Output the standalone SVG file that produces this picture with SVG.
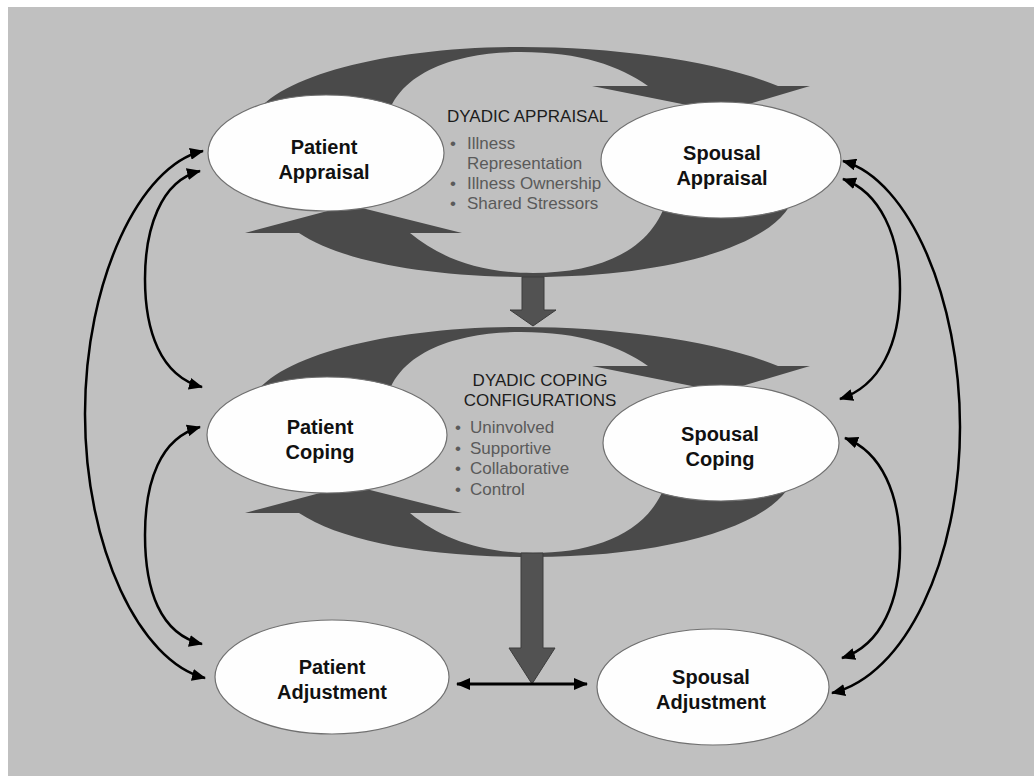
<svg xmlns="http://www.w3.org/2000/svg" xmlns:xlink="http://www.w3.org/1999/xlink" width="1034" height="776" viewBox="0 0 1034 776">
<style>
.band{fill:#4a4a4a;}
.big{fill:#525252;stroke:#3c3c3c;stroke-width:1;}
.node ellipse{fill:#fefefe;stroke:#707070;stroke-width:1.2;}
.lbl{font-family:"Liberation Sans",Arial,sans-serif;font-weight:bold;font-size:20px;fill:#111;text-anchor:middle;}
.ttl{font-family:"Liberation Sans",Arial,sans-serif;font-size:17px;fill:#1c1c1c;}
.itm{font-family:"Liberation Sans",Arial,sans-serif;font-size:17px;fill:#5a5a5a;}
.arc{fill:none;stroke:#000;stroke-width:2.5;marker-start:url(#ah);marker-end:url(#ah);}
</style>
<defs>
<marker id="ah" viewBox="0 0 14 12" refX="13" refY="6" markerWidth="14" markerHeight="12" markerUnits="userSpaceOnUse" orient="auto-start-reverse">
<path d="M0,0 L14,6 L0,12 z" fill="#000"/>
</marker>
<path id="crescTop" d="M250,125 C262,80 380,47 521,47 C620,47 720,62 778,86 L810,86 L722,112 L592,86 L648,86 C620,66 580,52 521,52 C460,52 395,70 385,125 Z"/>
<path id="crescBot" d="M245,233 L350,205 L462,233 L410,233 C440,258 480,273 533,273 C600,273 655,250 668,195 L795,190 C790,240 680,277 533,277 C420,277 340,260 299,233 Z"/>
</defs>
<rect x="0" y="0" width="1034" height="776" fill="#ffffff"/>
<rect x="8" y="7" width="1026" height="769" fill="#c0c0c0"/>
<g id="cycles" class="band">
<use xlink:href="#crescTop" href="#crescTop"/>
<use xlink:href="#crescBot" href="#crescBot"/>
<use xlink:href="#crescTop" href="#crescTop" transform="translate(0,280)"/>
<use xlink:href="#crescBot" href="#crescBot" transform="translate(0,280)"/>
</g>
<g id="connectors">
<path class="big" d="M522,277 L544,277 L544,310 L556,310 L533,326 L510,310 L522,310 Z"/>
<path class="big" d="M521,553 L543,553 L543,648 L555,648 L532,684 L509,648 L521,648 Z"/>
<path d="M457,684 L587,684" fill="none" stroke="#000" stroke-width="3" marker-start="url(#ah)" marker-end="url(#ah)"/>
<path class="arc" d="M203,151 C140,165 85,280 85,414 C85,548 140,662 205,678"/>
<path class="arc" d="M200,171 C160,181 145,230 145,279 C145,330 160,376 202,387"/>
<path class="arc" d="M200,427 C160,438 145,482 145,535 C145,590 160,634 202,644"/>
<path class="arc" d="M843,161 C910,180 960,300 960,427 C960,560 905,676 832,693"/>
<path class="arc" d="M843,179 C880,192 900,236 900,289 C900,344 880,386 840,399"/>
<path class="arc" d="M845,438 C882,452 900,495 900,548 C900,600 882,645 842,658"/>
</g>
<g id="patient-appraisal" class="node">
<ellipse cx="326" cy="153" rx="118" ry="58"/>
<text class="lbl" x="324" y="154">Patient</text>
<text class="lbl" x="324" y="179">Appraisal</text>
</g>
<g id="spousal-appraisal" class="node">
<ellipse cx="721" cy="160" rx="120" ry="58"/>
<text class="lbl" x="722" y="160">Spousal</text>
<text class="lbl" x="722" y="185">Appraisal</text>
</g>
<g id="patient-coping" class="node">
<ellipse cx="327" cy="435" rx="120" ry="58"/>
<text class="lbl" x="320" y="434">Patient</text>
<text class="lbl" x="320" y="459">Coping</text>
</g>
<g id="spousal-coping" class="node">
<ellipse cx="721" cy="443" rx="118" ry="58"/>
<text class="lbl" x="720" y="441">Spousal</text>
<text class="lbl" x="720" y="466">Coping</text>
</g>
<g id="patient-adjustment" class="node">
<ellipse cx="332" cy="677" rx="117" ry="57"/>
<text class="lbl" x="332" y="674">Patient</text>
<text class="lbl" x="332" y="699">Adjustment</text>
</g>
<g id="spousal-adjustment" class="node">
<ellipse cx="713" cy="687" rx="116" ry="58"/>
<text class="lbl" x="711" y="684">Spousal</text>
<text class="lbl" x="711" y="709">Adjustment</text>
</g>
<g id="dyadic-appraisal">
<text class="ttl" x="447" y="122">DYADIC APPRAISAL</text>
<text class="itm" x="450" y="149">•</text><text class="itm" x="467" y="149">Illness</text>
<text class="itm" x="467" y="169">Representation</text>
<text class="itm" x="450" y="189">•</text><text class="itm" x="467" y="189">Illness Ownership</text>
<text class="itm" x="450" y="209">•</text><text class="itm" x="467" y="209">Shared Stressors</text>
</g>
<g id="dyadic-coping">
<text class="ttl" x="540" y="386" text-anchor="middle">DYADIC COPING</text>
<text class="ttl" x="540" y="406" text-anchor="middle">CONFIGURATIONS</text>
<text class="itm" x="455" y="433">•</text><text class="itm" x="470" y="433">Uninvolved</text>
<text class="itm" x="455" y="454">•</text><text class="itm" x="470" y="454">Supportive</text>
<text class="itm" x="455" y="474">•</text><text class="itm" x="470" y="474">Collaborative</text>
<text class="itm" x="455" y="495">•</text><text class="itm" x="470" y="495">Control</text>
</g>
</svg>
